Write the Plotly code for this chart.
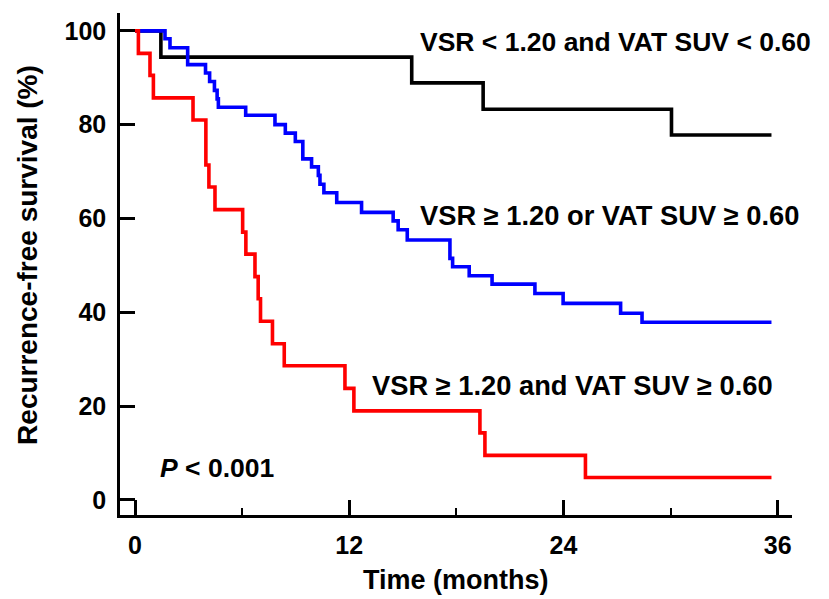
import plotly.graph_objects as go

# ---- data ----
black_t = [0, 1.45, 15.5, 19.5, 30.05, 35.65]
black_s = [100, 94.4, 88.9, 83.3, 77.8, 77.8]

blue_t = [0, 1.68, 1.96, 2.95, 3.95, 4.18, 4.45, 4.6, 4.67, 6.2, 7.84, 8.42, 8.98, 9.4,
          9.89, 10.27, 10.36, 10.58, 11.3, 12.69, 14.46, 14.74, 15.25, 17.64, 17.79,
          18.72, 20.0, 22.4, 23.98, 27.2, 28.4, 35.65]
blue_s = [100, 98.3, 96.4, 92.8, 91.0, 89.2, 87.3, 85.5, 83.7, 82.0, 80.0, 78.2, 76.4, 72.7,
          71.0, 69.2, 67.3, 65.5, 63.4, 61.3, 59.5, 57.6, 55.4, 51.5, 49.7,
          47.8, 46.0, 44.0, 41.9, 39.8, 37.9, 37.9]

red_t = [0, 0.19, 0.84, 1.03, 3.25, 3.97, 4.14, 4.48, 6.03, 6.21, 6.72, 6.9, 7.03, 7.7,
         8.36, 11.76, 12.26, 19.32, 19.6, 25.23, 35.65]
red_s = [100, 95.2, 90.5, 85.7, 81.0, 71.4, 66.7, 61.9, 57.1, 52.4, 47.6, 42.9, 38.1, 33.3,
         28.6, 23.8, 19.0, 14.3, 9.5, 4.8, 4.8]

x_ticks = [0, 12, 24, 36]
x_minor = [6, 18, 30]
y_ticks = [0, 20, 40, 60, 80, 100]

labels = ["VSR &lt; 1.20 and VAT SUV &lt; 0.60",
          "VSR ≥ 1.20 or VAT SUV ≥ 0.60",
          "VSR ≥ 1.20 and VAT SUV ≥ 0.60"]
label_x = [15.85, 15.85, 13.16]
label_y = [97.7, 60.6, 24.4]
label_size = [26.5, 27.3, 27.3]
p_text = "<i>P</i> &lt; 0.001"

FONT = "Liberation Sans, Arial, sans-serif"

fig = go.Figure()
for t, s, c in [(black_t, black_s, "#000000"), (blue_t, blue_s, "#0000FF"), (red_t, red_s, "#FF0000")]:
    fig.add_trace(go.Scatter(x=t, y=s, mode="lines", line=dict(color=c, width=3.6, shape="hv"),
                             showlegend=False, hoverinfo="skip"))

for txt, x, y, sz in zip(labels, label_x, label_y, label_size):
    fig.add_annotation(x=x, y=y, xref="x", yref="y", text="<b>" + txt + "</b>", showarrow=False,
                       xanchor="left", yanchor="middle", font=dict(family=FONT, size=sz, color="black"))
fig.add_annotation(x=1.29, y=6.9, xref="x", yref="y", text="<b>" + p_text + "</b>", showarrow=False,
                   xanchor="left", yanchor="middle", font=dict(family=FONT, size=26.5, color="black"))

fig.add_annotation(x=-0.137, y=0.518, xref="paper", yref="paper", text="<b>Recurrence-free survival (%)</b>",
                   textangle=-90, showarrow=False, xanchor="center", yanchor="middle",
                   font=dict(family=FONT, size=28, color="black"))
fig.add_annotation(x=0.5, y=-0.129, xref="paper", yref="paper", text="<b>Time (months)</b>",
                   showarrow=False, xanchor="center", yanchor="middle",
                   font=dict(family=FONT, size=27, color="black"))

fig.update_xaxes(range=[-0.84, 36.8], tickvals=x_ticks, ticktext=[f"<b>{v}</b>" for v in x_ticks],
                 ticks="inside", ticklen=15, tickwidth=2.5, tickcolor="black", automargin=False,
                 showline=True, linecolor="black", linewidth=2.5, showgrid=False, zeroline=False,
                 ticklabelstandoff=6,
                 minor=dict(tickvals=x_minor, ticks="inside", ticklen=7, tickwidth=2, tickcolor="black"),
                 tickfont=dict(family=FONT, size=25, color="black"))
fig.update_yaxes(range=[-3.2, 103.8], tickvals=y_ticks, ticktext=[f"<b>{v}</b>" for v in y_ticks],
                 ticks="inside", ticklen=15, tickwidth=2.5, tickcolor="black", automargin=False,
                 showline=True, linecolor="black", linewidth=2.5, showgrid=False, zeroline=False,
                 ticklabelstandoff=6,
                 tickfont=dict(family=FONT, size=25, color="black"))

fig.update_layout(width=829, height=599, margin=dict(l=120, r=37, t=13, b=84),
                  plot_bgcolor="white", paper_bgcolor="white")

fig.write_html("out.html", config={"displayModeBar": False},
               post_script="document.body.style.margin='0';document.body.style.overflow='hidden';")
